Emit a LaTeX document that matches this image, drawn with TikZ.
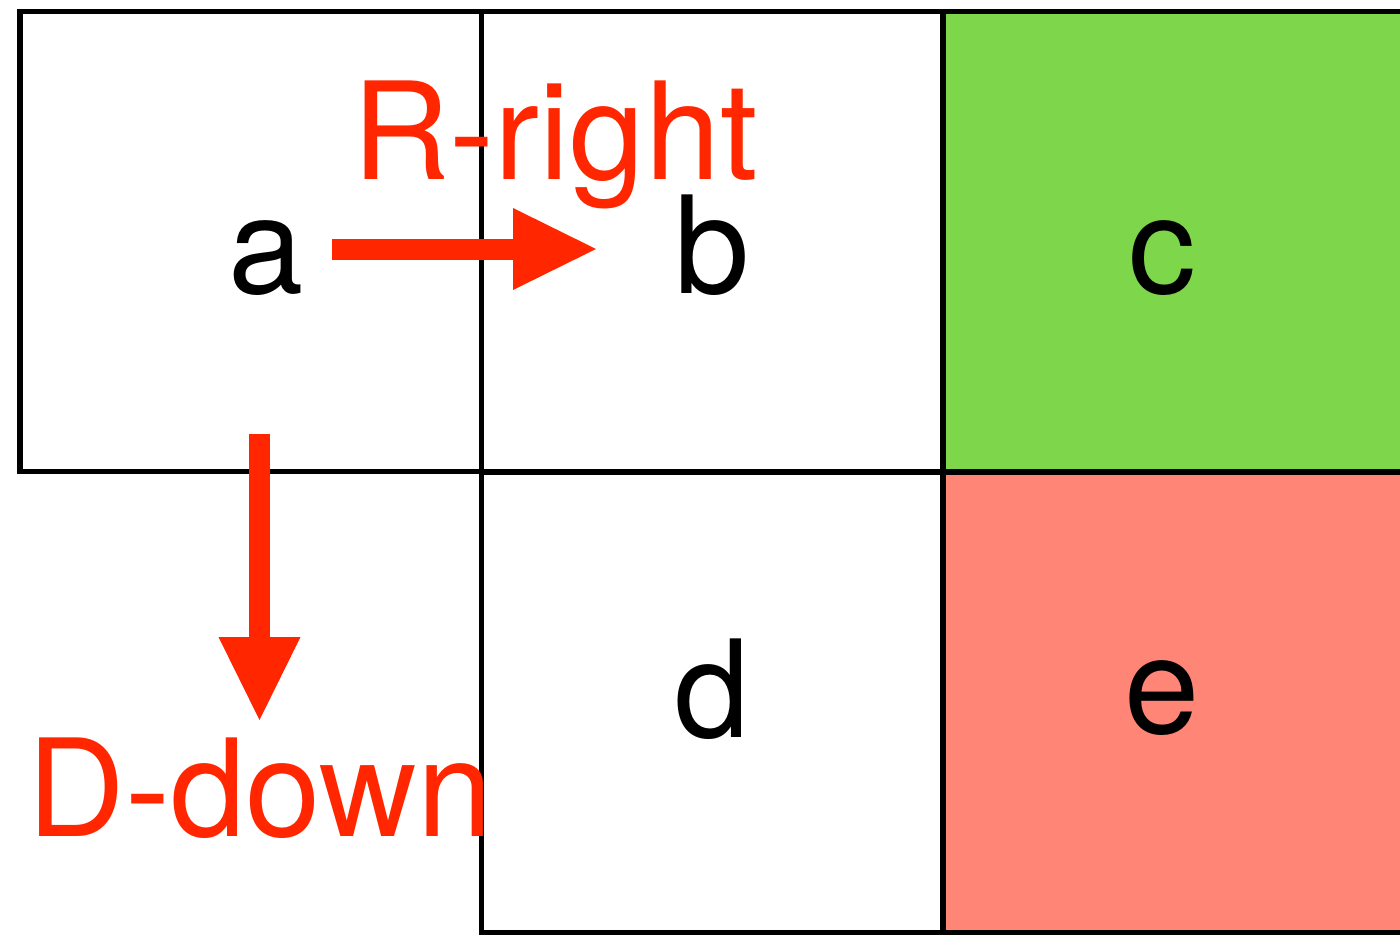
\documentclass[tikz,border=0pt]{standalone}
\usepackage{fontspec}
\setmainfont{TeX Gyre Heros}
\usetikzlibrary{arrows.meta}
\definecolor{moveRed}{RGB}{255,38,0}
\definecolor{cellGreen}{RGB}{126,214,75}
\definecolor{cellSalmon}{RGB}{255,134,118}
\def\cellw{9.22cm}
\def\cellh{9.2cm}

\begin{document}
\begin{tikzpicture}[line width=2.85pt]
    \tikzstyle{cell}=[rectangle,draw=black,minimum width=\cellw,minimum height=\cellh,inner sep=0pt]
    \tikzstyle{letter}=[anchor=base,inner sep=0pt,font=\fontsize{77}{80}\selectfont]
    \tikzstyle{annot}=[letter,text=moveRed]
    \tikzstyle{move}=[draw=moveRed,line width=0.42cm,
        -{Triangle[width=1.64cm,length=1.66cm,line width=0pt]}]

    \useasboundingbox (0,0) rectangle (28,-18.76);

    % Draw the grid cells
    \node[cell] (a) at (5.01,-4.83) {};
    \node[cell] (b) at (14.24,-4.83) {};
    \node[cell,fill=cellGreen] (c) at (23.47,-4.83) {};
    \node[cell] (d) at (14.24,-14.04) {};
    \node[cell,fill=cellSalmon] (e) at (23.47,-14.04) {};

    % Letters in the cells
    \node[letter] (la) at (5.32,-5.86) {a};
    \node[letter] (lb) at (14.24,-5.86) {b};
    \node[letter] (lc) at (23.24,-5.86) {c};
    \node[letter] (ld) at (14.24,-14.74) {d};
    \node[letter] (le) at (23.24,-14.66) {e};

    % The two moves out of a
    \coordinate (r0) at (6.64,-4.98);
    \coordinate (r1) at (11.92,-4.98);
    \coordinate (d0) at (5.19,-8.68);
    \coordinate (d1) at (5.19,-14.4);
    \draw[move] (r0) -- (r1);
    \draw[move] (d0) -- (d1);

    % Annotate the moves
    \node[annot] (right) at (11.1,-3.58) {R-right};
    \node[annot] (down) at (5.2,-16.72) {D-down};
\end{tikzpicture}
\end{document}
